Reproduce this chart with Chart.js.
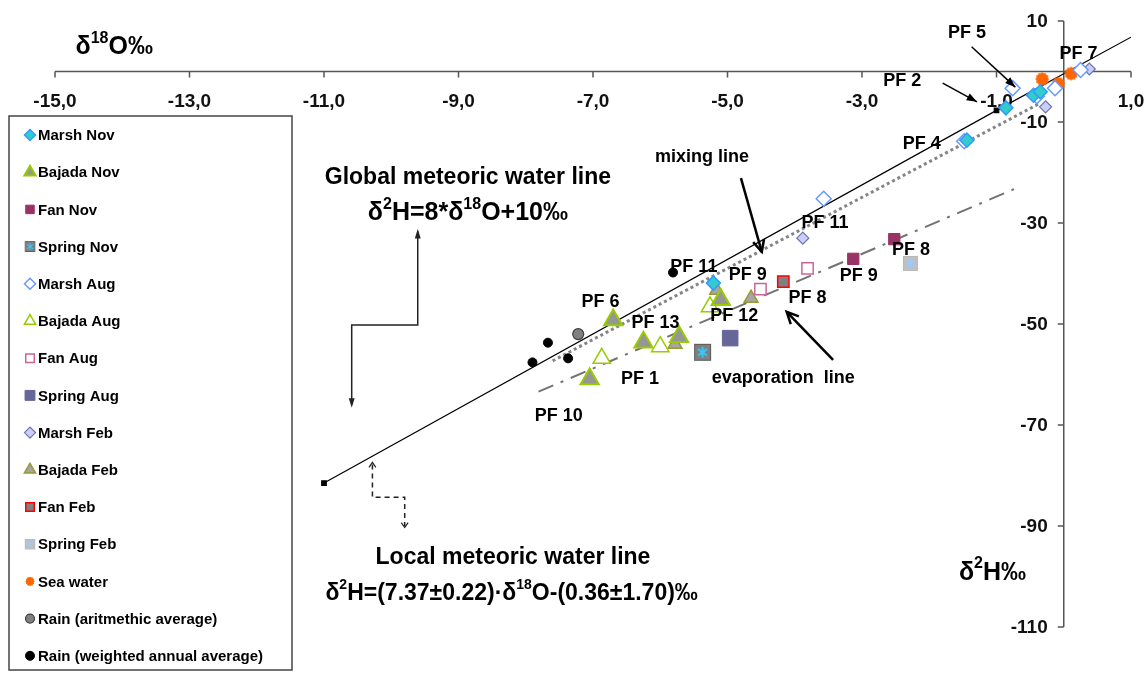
<!DOCTYPE html>
<html>
<head>
<meta charset="utf-8">
<title>δ18O vs δ2H</title>
<script src="https://cdn.jsdelivr.net/npm/chart.js@4.4.1/dist/chart.umd.min.js"></script>
<style>
  html, body { margin: 0; padding: 0; background: #fff; }
  #wrap { width: 1146px; height: 674px; }
</style>
</head>
<body>
<div id="wrap"><canvas id="chart" width="1146" height="674"></canvas></div>
<script>
/* ---------- data (δ18O ‰, δ2H ‰) ---------- */
const xTicks = [-15, -13, -11, -9, -7, -5, -3, -1, 1];
const yTicks = [10, -10, -30, -50, -70, -90, -110];

const marshNov   = [[-0.86, -7.2], [-0.45, -4.7], [-0.35, -4.0], [-1.44, -13.6], [-5.21, -41.9]];
const bajadaNov  = [[-6.70, -49.2], [-6.25, -53.6], [-5.72, -52.5], [-7.05, -60.9], [-5.10, -45.2]];
const fanNov     = [[-3.13, -37.1], [-2.52, -33.2]];
const springNov  = [[-5.37, -55.6]];
const marshAug   = [[-0.76, -3.3], [-0.13, -3.3], [-0.40, -4.9], [-1.48, -13.8], [-3.57, -25.2], [0.25, 0.3]];
const bajadaAug  = [[-6.87, -56.8], [-6.00, -54.5], [-5.26, -46.6]];
const fanAug     = [[-3.81, -39.0], [-4.51, -43.1]];
const springAug  = [[-4.96, -52.8]];
const marshFeb   = [[0.38, 0.5], [-0.27, -7.0], [-3.88, -33.0]];
const bajadaFeb  = [[-5.16, -43.3], [-5.78, -54.0], [-4.65, -44.9]];
const fanFeb     = [[-4.17, -41.6]];
const springFeb  = [[-2.28, -38.0]];
const seaWater   = [[-0.32, -1.5], [-0.08, -2.4], [0.11, -0.4]];
const rainArith  = [[-7.22, -52.0]];
const rainWeight = [[-5.81, -39.8], [-7.67, -53.7], [-7.90, -57.6], [-7.37, -56.8]];

// fitted lines
const localLine  = [[-11, -81.5], [-1, -7.7], [1, 6.8]];
const mixingLine = [[-7.6, -57.3], [-0.37, -6.4]];
const evapLine   = [[-7.81, -63.4], [-0.74, -23.3]];

// point labels: text, δ18O, δ2H (centre of text)
const pfLabels = [
  ['PF 5', -1.44, 7.6], ['PF 7', 0.22, 3.4], ['PF 2', -2.40, -1.9], ['PF 4', -2.11, -14.3],
  ['PF 11', -3.55, -30.0], ['PF 8', -2.27, -35.3], ['PF 9', -3.05, -40.5],
  ['PF 11', -5.50, -38.7], ['PF 9', -4.70, -40.3], ['PF 8', -3.81, -44.9],
  ['PF 6', -6.89, -45.6], ['PF 13', -6.07, -49.9], ['PF 12', -4.90, -48.4],
  ['PF 1', -6.30, -60.9], ['PF 10', -7.51, -68.2],
  ['mixing line', -5.38, -16.9], ['evaporation  line', -4.17, -60.7]
];

const FONT = '"Liberation Sans", Arial, sans-serif';

/* ---------- custom marker images ---------- */
function springMarker(size, fill, edge, star) {
  const c = document.createElement('canvas');
  c.width = c.height = size + 2;
  const g = c.getContext('2d');
  g.fillStyle = fill;
  g.fillRect(1, 1, size, size);
  g.strokeStyle = edge;
  g.lineWidth = 1;
  g.strokeRect(1.5, 1.5, size - 1, size - 1);
  const m = (size + 2) / 2, r = size * 0.33;
  g.strokeStyle = star;
  g.lineWidth = Math.max(1.2, size / 9);
  g.beginPath();
  g.moveTo(m, m - r); g.lineTo(m, m + r);
  g.moveTo(m - r * 0.8, m - r * 0.6); g.lineTo(m + r * 0.8, m + r * 0.6);
  g.moveTo(m - r * 0.8, m + r * 0.6); g.lineTo(m + r * 0.8, m - r * 0.6);
  g.stroke();
  return c;
}

function sunMarker(r, color) {
  const s = Math.ceil(r * 2 + 2);
  const c = document.createElement('canvas');
  c.width = c.height = s;
  const g = c.getContext('2d');
  const m = s / 2;
  g.fillStyle = color;
  g.beginPath();
  for (let i = 0; i < 24; i++) {
    const a = i * Math.PI / 12;
    const rr = i % 2 ? r * 0.84 : r;
    g.lineTo(m + rr * Math.cos(a), m + rr * Math.sin(a));
  }
  g.closePath();
  g.fill();
  return c;
}

const springNovImg = springMarker(17, '#7f7f7f', '#5a5a5a', '#33ccff');
const springFebImg = springMarker(15, '#c0c0c0', '#b8b8b8', '#99ccff');
const seaImg = sunMarker(7, '#ff6600');

/* ---------- datasets ---------- */
const pts = arr => arr.map(p => ({ x: p[0], y: p[1] }));

function series(label, data, style, radius, bg, border, bw, legendR) {
  return {
    label, data: pts(data), pointStyle: style, pointRadius: radius,
    pointBackgroundColor: bg, pointBorderColor: border, pointBorderWidth: bw,
    pointHoverRadius: radius, showLine: false, legendRadius: legendR
  };
}

const datasets = [
  series('Marsh Nov', marshNov, 'rectRot', 7, '#33cccc', '#3399ff', 1.5, 5.5),
  series('Bajada Nov', bajadaNov, 'triangle', 10.5, '#969696', '#99cc00', 2, 6.5),
  series('Fan Nov', fanNov, 'rect', 8, '#993366', '#993366', 1, 6),
  series('Spring Nov', springNov, springNovImg, 9, '#7f7f7f', '#5a5a5a', 1, 6),
  series('Marsh Aug', marshAug, 'rectRot', 7.5, '#ffffff', '#6699ff', 1.5, 5.5),
  series('Bajada Aug', bajadaAug, 'triangle', 10, '#ffffff', '#99cc00', 1.5, 6.5),
  series('Fan Aug', fanAug, 'rect', 8, '#ffffff', '#cc6699', 1.5, 6),
  series('Spring Aug', springAug, 'rect', 11, '#666699', '#666699', 1, 7),
  series('Marsh Feb', marshFeb, 'rectRot', 6, '#ccccff', '#6677aa', 1.2, 5.5),
  series('Bajada Feb', bajadaFeb, 'triangle', 8, '#a6a6a6', '#999933', 1.5, 6.5),
  series('Fan Feb', fanFeb, 'rect', 8, '#808080', '#ff0000', 1.5, 6),
  series('Spring Feb', springFeb, springFebImg, 8, '#c0c0c0', '#b8b8b8', 1, 6),
  series('Sea water', seaWater, seaImg, 7, '#ff6600', '#ff6600', 0, 5.5),
  series('Rain (aritmethic average)', rainArith, 'circle', 5.5, '#808080', '#404040', 1.2, 4.5),
  series('Rain (weighted annual average)', rainWeight, 'circle', 4.5, '#000000', '#000000', 1, 4.5),
  {
    label: 'local line', data: pts(localLine), showLine: true, noLegend: true, order: 10,
    borderColor: '#000', borderWidth: 1.2, pointStyle: 'rect', pointRadius: [3.2, 3.2, 0],
    pointBackgroundColor: '#000', pointBorderColor: '#000'
  },
  {
    label: 'mixing line', data: pts(mixingLine), showLine: true, noLegend: true, order: 10,
    borderColor: '#858585', borderWidth: 3, borderDash: [3, 3], pointRadius: 0
  },
  {
    label: 'evaporation line', data: pts(evapLine), showLine: true, noLegend: true, order: 10,
    borderColor: '#737373', borderWidth: 2, borderDash: [16, 8, 3, 8], pointRadius: 0
  }
];

/* ---------- drawing helpers ---------- */
function richText(ctx, parts, cx, baseY, size) {
  const big = `bold ${size}px ${FONT}`;
  const small = `bold ${Math.round(size * 0.62)}px ${FONT}`;
  let w = 0;
  parts.forEach(p => { ctx.font = p.sup ? small : big; w += ctx.measureText(p.t).width; });
  let x = cx - w / 2;
  ctx.textAlign = 'left';
  ctx.textBaseline = 'alphabetic';
  parts.forEach(p => {
    ctx.font = p.sup ? small : big;
    ctx.fillText(p.t, x, p.sup ? baseY - size * 0.45 : baseY);
    x += ctx.measureText(p.t).width;
  });
}

function arrowHead(ctx, x1, y1, x2, y2, len, spread, filled) {
  const a = Math.atan2(y2 - y1, x2 - x1);
  ctx.beginPath();
  ctx.moveTo(x2 - len * Math.cos(a - spread), y2 - len * Math.sin(a - spread));
  ctx.lineTo(x2, y2);
  ctx.lineTo(x2 - len * Math.cos(a + spread), y2 - len * Math.sin(a + spread));
  if (filled) { ctx.closePath(); ctx.fill(); } else { ctx.stroke(); }
}

/* ---------- plugins ---------- */
const crossAxes = {
  id: 'crossAxes',
  beforeDatasetsDraw(chart) {
    const { ctx, scales: { x, y } } = chart;
    const x0 = x.getPixelForValue(0), y0 = y.getPixelForValue(0);
    ctx.save();
    ctx.strokeStyle = '#555';
    ctx.lineWidth = 1.5;
    ctx.beginPath();
    ctx.moveTo(x.getPixelForValue(xTicks[0]), y0);
    ctx.lineTo(x.getPixelForValue(xTicks[xTicks.length - 1]), y0);
    ctx.moveTo(x0, y.getPixelForValue(yTicks[0]));
    ctx.lineTo(x0, y.getPixelForValue(yTicks[yTicks.length - 1]));
    xTicks.forEach(v => { const px = x.getPixelForValue(v); ctx.moveTo(px, y0); ctx.lineTo(px, y0 + 6); });
    yTicks.forEach(v => { const py = y.getPixelForValue(v); ctx.moveTo(x0, py); ctx.lineTo(x0 - 6, py); });
    ctx.stroke();

    ctx.fillStyle = '#111';
    ctx.font = `bold 19px ${FONT}`;
    ctx.textAlign = 'center';
    ctx.textBaseline = 'middle';
    xTicks.forEach(v => ctx.fillText(v.toFixed(1).replace('.', ','), x.getPixelForValue(v), y0 + 30));
    ctx.textAlign = 'right';
    yTicks.forEach(v => ctx.fillText(String(v), x0 - 16, y.getPixelForValue(v) + 1));
    ctx.restore();
  }
};

const notes = {
  id: 'notes',
  afterDatasetsDraw(chart) {
    const { ctx, scales: { x, y } } = chart;
    const X = v => x.getPixelForValue(v), Y = v => y.getPixelForValue(v);
    ctx.save();
    ctx.fillStyle = '#000';
    ctx.strokeStyle = '#000';

    // pointer arrows
    ctx.lineWidth = 1.5;
    [[-1.37, 4.9, -0.72, -3.1], [-1.80, -2.3, -1.29, -6.0]].forEach(a => {
      ctx.beginPath(); ctx.moveTo(X(a[0]), Y(a[1])); ctx.lineTo(X(a[2]), Y(a[3])); ctx.stroke();
      arrowHead(ctx, X(a[0]), Y(a[1]), X(a[2]), Y(a[3]), 11, 0.35, true);
    });
    ctx.lineWidth = 2.5;
    [[-4.80, -21.1, -4.49, -35.7], [-3.43, -57.1, -4.12, -47.6]].forEach(a => {
      ctx.beginPath(); ctx.moveTo(X(a[0]), Y(a[1])); ctx.lineTo(X(a[2]), Y(a[3])); ctx.stroke();
      arrowHead(ctx, X(a[0]), Y(a[1]), X(a[2]), Y(a[3]), 13, 0.45, false);
    });

    // connector of the global line label
    ctx.strokeStyle = '#222';
    ctx.lineWidth = 1.5;
    ctx.beginPath();
    ctx.moveTo(X(-9.606), Y(-31.6));
    ctx.lineTo(X(-9.606), Y(-50.2));
    ctx.lineTo(X(-10.588), Y(-50.2));
    ctx.lineTo(X(-10.588), Y(-66.0));
    ctx.stroke();
    ctx.fillStyle = '#222';
    arrowHead(ctx, X(-9.606), Y(-40), X(-9.606), Y(-31.2), 10, 0.3, true);
    arrowHead(ctx, X(-10.588), Y(-60), X(-10.588), Y(-66.6), 10, 0.3, true);

    // dashed connector of the local line label
    ctx.setLineDash([5, 4]);
    ctx.beginPath();
    ctx.moveTo(X(-10.28), Y(-77.8));
    ctx.lineTo(X(-10.28), Y(-84.3));
    ctx.lineTo(X(-9.80), Y(-84.3));
    ctx.lineTo(X(-9.80), Y(-90.0));
    ctx.stroke();
    ctx.setLineDash([]);
    ctx.lineWidth = 1.2;
    arrowHead(ctx, X(-10.28), Y(-80), X(-10.28), Y(-77.4), 6, 0.6, false);
    arrowHead(ctx, X(-9.80), Y(-88), X(-9.80), Y(-90.3), 6, 0.6, false);

    // point labels
    ctx.fillStyle = '#000';
    ctx.font = `bold 18px ${FONT}`;
    ctx.textAlign = 'center';
    ctx.textBaseline = 'middle';
    pfLabels.forEach(l => ctx.fillText(l[0], X(l[1]), Y(l[2])));

    // line captions
    ctx.font = `bold 23px ${FONT}`;
    ctx.fillText('Global meteoric water line', X(-8.86), Y(-21.1));
    richText(ctx, [{ t: 'δ' }, { t: '2', sup: 1 }, { t: 'H=8*δ' }, { t: '18', sup: 1 }, { t: 'O+10‰' }], X(-8.86), Y(-29.4), 25);
    ctx.textAlign = 'center';
    ctx.textBaseline = 'middle';
    ctx.font = `bold 23px ${FONT}`;
    ctx.fillText('Local meteoric water line', X(-8.19), Y(-96.3));
    richText(ctx, [{ t: 'δ' }, { t: '2', sup: 1 }, { t: 'H=(7.37±0.22)·δ' }, { t: '18', sup: 1 }, { t: 'O-(0.36±1.70)‰' }], X(-8.21), Y(-104.6), 23);

    // axis titles
    richText(ctx, [{ t: 'δ' }, { t: '18', sup: 1 }, { t: 'O‰' }], X(-14.12), Y(3.4), 25);
    richText(ctx, [{ t: 'δ' }, { t: '2', sup: 1 }, { t: 'H‰' }], X(-1.06), Y(-100.6), 25);
    ctx.restore();
  }
};

const LEGEND = { left: 9, top: 116, width: 283, height: 554, markX: 30, textX: 38, rowY: 135, step: 37.2 };

const boxLegend = {
  id: 'boxLegend',
  afterDraw(chart) {
    const ctx = chart.ctx;
    ctx.save();
    ctx.fillStyle = '#fff';
    ctx.fillRect(LEGEND.left, LEGEND.top, LEGEND.width, LEGEND.height);
    ctx.strokeStyle = '#444';
    ctx.lineWidth = 1.5;
    ctx.strokeRect(LEGEND.left, LEGEND.top, LEGEND.width, LEGEND.height);

    let row = 0;
    chart.data.datasets.forEach(ds => {
      if (ds.noLegend) return;
      const cy = LEGEND.rowY + row * LEGEND.step;
      const cx = LEGEND.markX;
      const st = ds.pointStyle;
      if (st instanceof HTMLCanvasElement) {
        const s = ds.legendRadius * 2;
        ctx.drawImage(st, cx - s / 2, cy - s / 2, s, s);
      } else {
        ctx.fillStyle = ds.pointBackgroundColor;
        ctx.strokeStyle = ds.pointBorderColor;
        ctx.lineWidth = ds.pointBorderWidth;
        Chart.helpers.drawPoint(ctx, { pointStyle: st, radius: ds.legendRadius, borderWidth: ds.pointBorderWidth, rotation: 0 }, cx, cy);
      }
      ctx.fillStyle = '#000';
      ctx.font = `bold 15px ${FONT}`;
      ctx.textAlign = 'left';
      ctx.textBaseline = 'middle';
      ctx.fillText(ds.label, LEGEND.textX, cy + 1);
      row++;
    });
    ctx.restore();
  }
};

/* ---------- chart ---------- */
new Chart(document.getElementById('chart'), {
  type: 'scatter',
  data: { datasets },
  options: {
    responsive: false,
    devicePixelRatio: 1,
    animation: false,
    layout: { padding: { left: 55, right: 15, top: 21, bottom: 47 } },
    plugins: { legend: { display: false }, tooltip: { enabled: false } },
    scales: {
      x: { type: 'linear', min: -15, max: 1, display: false },
      y: { type: 'linear', min: -110, max: 10, display: false }
    }
  },
  plugins: [crossAxes, notes, boxLegend]
});
</script>
</body>
</html>
